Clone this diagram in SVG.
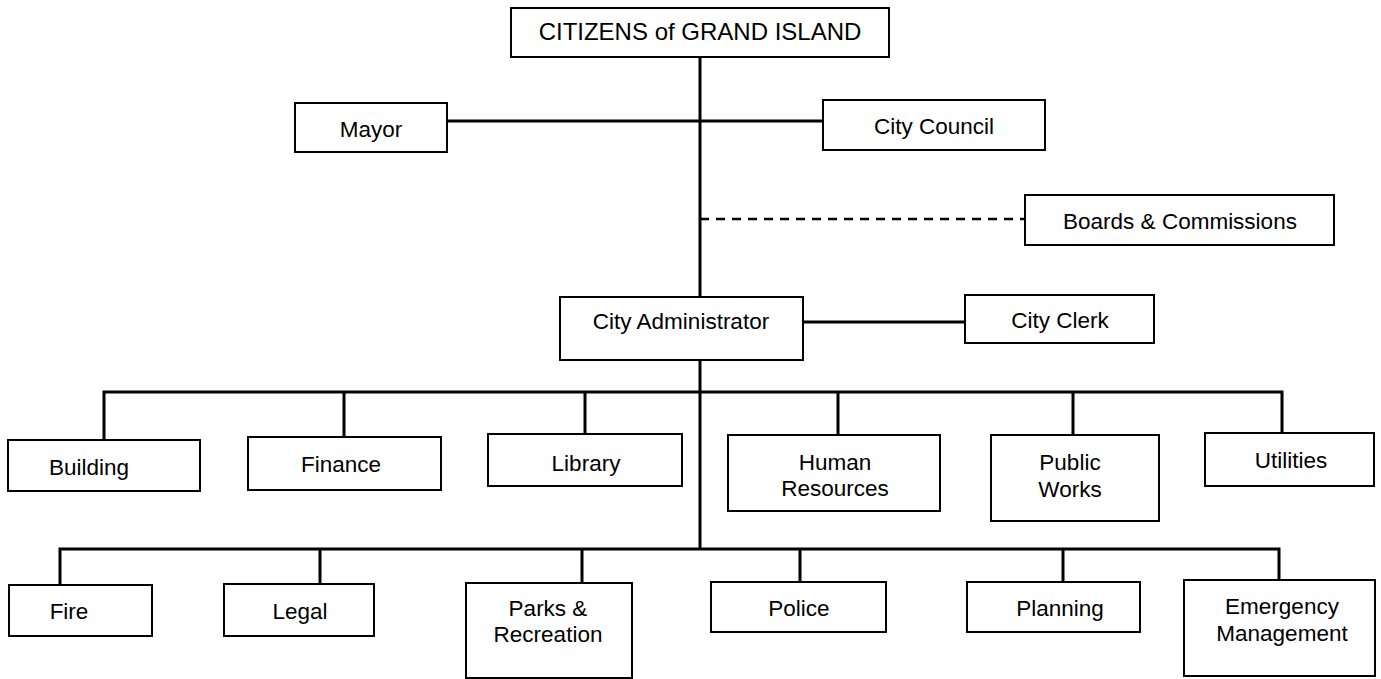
<svg xmlns="http://www.w3.org/2000/svg" width="1381" height="679" viewBox="0 0 1381 679">
<style>
.box{fill:#fff;stroke:#000;stroke-width:2}
.t{font-family:"Liberation Sans",Arial,sans-serif;font-size:22.5px;fill:#000;text-anchor:middle}
.big{font-size:24px}
.c{stroke:#000;stroke-width:3;fill:none}
.d{stroke:#000;stroke-width:2.5;fill:none;stroke-dasharray:9 7}
</style>
<rect width="1381" height="679" fill="#fff"/>
<g id="connectors">
<line class="c" x1="700" y1="57" x2="700" y2="549"/>
<line class="c" x1="447" y1="121" x2="823" y2="121"/>
<line class="d" x1="700" y1="219" x2="1025" y2="219"/>
<line class="c" x1="803" y1="322" x2="965" y2="322"/>
<polyline class="c" points="104,440 104,392 1282,392 1282,434"/>
<line class="c" x1="344" y1="392" x2="344" y2="437"/>
<line class="c" x1="585" y1="392" x2="585" y2="434"/>
<line class="c" x1="838" y1="392" x2="838" y2="435"/>
<line class="c" x1="1073" y1="392" x2="1073" y2="435"/>
<polyline class="c" points="60,585 60,549 1279,549 1279,580"/>
<line class="c" x1="320" y1="549" x2="320" y2="584"/>
<line class="c" x1="582" y1="549" x2="582" y2="583"/>
<line class="c" x1="800" y1="549" x2="800" y2="582"/>
<line class="c" x1="1063" y1="549" x2="1063" y2="582"/>
</g>
<g id="citizens"><rect class="box" x="511" y="8" width="378" height="49"/><text class="t big" x="700" y="40">CITIZENS of GRAND ISLAND</text></g>
<g id="mayor"><rect class="box" x="295" y="103" width="152" height="49"/><text class="t" x="371" y="137">Mayor</text></g>
<g id="council"><rect class="box" x="823" y="100" width="222" height="50"/><text class="t" x="934" y="134">City Council</text></g>
<g id="boards"><rect class="box" x="1025" y="195" width="309" height="50"/><text class="t" x="1180" y="229">Boards &amp; Commissions</text></g>
<g id="administrator"><rect class="box" x="560" y="297" width="243" height="63"/><text class="t" x="681" y="329">City Administrator</text></g>
<g id="clerk"><rect class="box" x="965" y="295" width="189" height="48"/><text class="t" x="1060" y="328">City Clerk</text></g>
<g id="building"><rect class="box" x="8" y="440" width="192" height="51"/><text class="t" x="89" y="475">Building</text></g>
<g id="finance"><rect class="box" x="248" y="437" width="193" height="53"/><text class="t" x="341" y="472">Finance</text></g>
<g id="library"><rect class="box" x="488" y="434" width="194" height="52"/><text class="t" x="586" y="471">Library</text></g>
<g id="hr"><rect class="box" x="728" y="435" width="212" height="76"/><text class="t" x="835" y="470">Human</text><text class="t" x="835" y="496">Resources</text></g>
<g id="publicworks"><rect class="box" x="991" y="435" width="168" height="86"/><text class="t" x="1070" y="470">Public</text><text class="t" x="1070" y="497">Works</text></g>
<g id="utilities"><rect class="box" x="1205" y="433" width="169" height="53"/><text class="t" x="1291" y="468">Utilities</text></g>
<g id="fire"><rect class="box" x="9" y="585" width="143" height="51"/><text class="t" x="69" y="619">Fire</text></g>
<g id="legal"><rect class="box" x="224" y="584" width="150" height="52"/><text class="t" x="300" y="619">Legal</text></g>
<g id="parks"><rect class="box" x="466" y="583" width="166" height="95"/><text class="t" x="548" y="616">Parks &amp;</text><text class="t" x="548" y="642">Recreation</text></g>
<g id="police"><rect class="box" x="711" y="582" width="175" height="50"/><text class="t" x="799" y="616">Police</text></g>
<g id="planning"><rect class="box" x="967" y="582" width="173" height="50"/><text class="t" x="1060" y="616">Planning</text></g>
<g id="emergency"><rect class="box" x="1184" y="580" width="191" height="96"/><text class="t" x="1282" y="614">Emergency</text><text class="t" x="1282" y="641">Management</text></g>
</svg>
